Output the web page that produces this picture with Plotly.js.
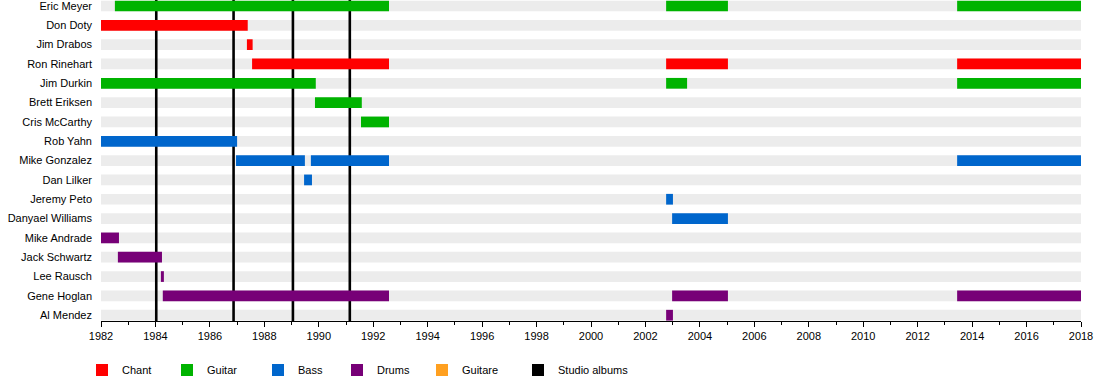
<!DOCTYPE html>
<html>
<head>
<meta charset="utf-8">
<script src="https://cdn.plot.ly/plotly-3.0.1.min.js"></script>
<style>html,body{margin:0;padding:0;background:#fff;}#chart{width:1100px;height:380px;}</style>
</head>
<body>
<div id="chart"></div>
<script>
// ---- data ----
var members = ['Eric Meyer','Don Doty','Jim Drabos','Ron Rinehart','Jim Durkin','Brett Eriksen','Cris McCarthy','Rob Yahn','Mike Gonzalez','Dan Lilker','Jeremy Peto','Danyael Williams','Mike Andrade','Jack Schwartz','Lee Rausch','Gene Hoglan','Al Mendez'];

var roles = ['Chant','Guitar','Bass','Drums','Guitare'];
var roleColors = ['#ff0000','#00b300','#0066cc','#770077','#ffa020'];

// periods: member, role, start, end (decimal years)
var periodMember = ['Eric Meyer','Eric Meyer','Eric Meyer',
  'Don Doty','Jim Drabos',
  'Ron Rinehart','Ron Rinehart','Ron Rinehart',
  'Jim Durkin','Jim Durkin','Jim Durkin',
  'Brett Eriksen','Cris McCarthy','Rob Yahn',
  'Mike Gonzalez','Mike Gonzalez','Mike Gonzalez',
  'Dan Lilker','Jeremy Peto','Danyael Williams',
  'Mike Andrade','Jack Schwartz','Lee Rausch',
  'Gene Hoglan','Gene Hoglan','Gene Hoglan','Al Mendez'];
var periodRole = ['Guitar','Guitar','Guitar',
  'Chant','Chant',
  'Chant','Chant','Chant',
  'Guitar','Guitar','Guitar',
  'Guitar','Guitar','Bass',
  'Bass','Bass','Bass',
  'Bass','Bass','Bass',
  'Drums','Drums','Drums',
  'Drums','Drums','Drums','Drums'];
var periodStart = [1982.51,2002.76,2013.45,
  1982.0,1987.36,
  1987.55,2002.76,2013.45,
  1982.0,2002.76,2013.45,
  1989.86,1991.55,1982.0,
  1986.96,1989.71,2013.45,
  1989.46,2002.76,2002.98,
  1982.0,1982.62,1984.2,
  1984.27,2002.98,2013.45,2002.76];
var periodEnd = [1992.58,2005.03,2018.0,
  1987.39,1987.57,
  1992.58,2005.03,2018.0,
  1989.89,2003.53,2018.0,
  1991.58,1992.58,1987.0,
  1989.49,1992.58,2018.0,
  1989.75,2003.01,2005.03,
  1982.66,1984.24,1984.31,
  1992.58,2005.03,2018.0,2003.01];

var albumYears = [1984.03, 1986.87, 1989.05, 1991.14];

var timelineStart = 1982;
var timelineEnd = 2018;

// ---- build ----
var barW = 0.555;
var yTop = -0.31, yBottom = 16.30;
var legendX = [82, 167, 258, 337, 422, 518];
var traces = [];
roles.forEach(function(role, ri){
  var ys = [], xs = [], bs = [];
  for (var i = 0; i < periodRole.length; i++) {
    if (periodRole[i] === role) {
      ys.push(members.indexOf(periodMember[i]));
      bs.push(periodStart[i]);
      xs.push(periodEnd[i] - periodStart[i]);
    }
  }
  if (ys.length === 0) { ys = [0]; bs = [timelineStart]; xs = [0]; }
  traces.push({
    type: 'bar', orientation: 'h', name: role,
    legend: ri === 0 ? 'legend' : 'legend' + (ri + 1),
    y: ys, x: xs, base: bs, width: barW,
    marker: {color: roleColors[ri], line: {width: 0}},
    hoverinfo: 'skip'
  });
});
traces.push({
  type: 'bar', orientation: 'h', name: 'Studio albums', legend: 'legend6',
  y: [0], x: [0], base: [timelineStart], width: barW,
  marker: {color: '#000000', line: {width: 0}},
  hoverinfo: 'skip'
});

var shapes = [];
members.forEach(function(m, i){
  shapes.push({type: 'rect', layer: 'below', xref: 'x', yref: 'y',
    x0: timelineStart, x1: timelineEnd, y0: i - barW/2, y1: i + barW/2,
    fillcolor: '#ececec', line: {width: 0}});
});
albumYears.forEach(function(yr){
  shapes.push({type: 'line', layer: 'below', xref: 'x', yref: 'y',
    x0: yr, x1: yr, y0: yBottom, y1: yTop, line: {color: '#000000', width: 2.6}});
});

var font = {family: 'Liberation Sans, Arial, sans-serif', size: 11, color: '#000'};

var layout = {
  width: 1100, height: 380,
  margin: {l: 101, r: 19, t: 0, b: 59},
  paper_bgcolor: '#ffffff', plot_bgcolor: '#ffffff',
  font: font,
  barmode: 'overlay',
  showlegend: true,
  xaxis: {range: [timelineStart, timelineEnd], dtick: 2, tick0: 1982,
    showgrid: false, zeroline: false, showline: true, linecolor: '#000', linewidth: 1,
    ticks: 'outside', ticklen: 5, tickcolor: '#000', tickwidth: 1,
    minor: {dtick: 1, ticks: 'outside', ticklen: 3, tickcolor: '#000', showgrid: false},
    tickfont: font, fixedrange: true},
  yaxis: {range: [yBottom, yTop], tickvals: members.map(function(m,i){return i;}),
    ticktext: members, showgrid: false, zeroline: false, showline: false,
    ticks: '', ticklabelstandoff: 8, ticklabeloverflow: 'allow',
    tickfont: font, fixedrange: true},
  shapes: shapes
};
legendX.forEach(function(px, k){
  var key = k === 0 ? 'legend' : 'legend' + (k + 1);
  layout[key] = {orientation: 'h', xref: 'container', yref: 'container',
    x: px / 1100, y: 10 / 380, xanchor: 'left', yanchor: 'middle',
    font: font, itemwidth: 30, bgcolor: 'rgba(0,0,0,0)'};
});

Plotly.newPlot('chart', traces, layout, {displayModeBar: false, staticPlot: true});
</script>
</body>
</html>
